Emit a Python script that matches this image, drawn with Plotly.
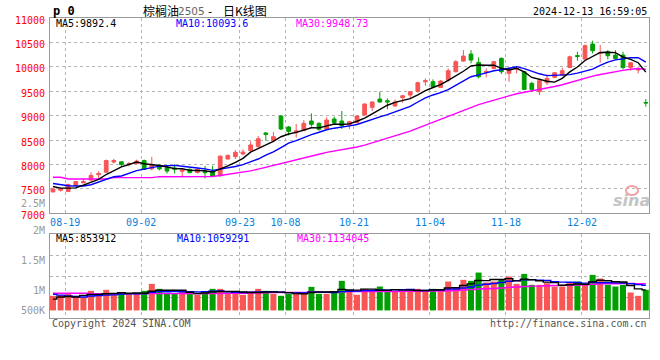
import plotly.graph_objects as go
import pandas as pd
import numpy as np

# ---------------- data ----------------
dates = (
    ["08-15", "08-16", "08-19", "08-20", "08-21", "08-22", "08-23", "08-26", "08-27", "08-28", "08-29", "08-30"]
    + ["09-02", "09-03", "09-04", "09-05", "09-06", "09-09", "09-10", "09-11", "09-12", "09-13",
       "09-18", "09-19", "09-20", "09-23", "09-24", "09-25", "09-26", "09-27", "09-30"]
    + ["10-08", "10-09", "10-10", "10-11", "10-14", "10-15", "10-16", "10-17", "10-18", "10-21",
       "10-22", "10-23", "10-24", "10-25", "10-28", "10-29", "10-30", "10-31"]
    + ["11-01", "11-04", "11-05", "11-06", "11-07", "11-08", "11-11", "11-12", "11-13", "11-14", "11-15",
       "11-18", "11-19", "11-20", "11-21", "11-22", "11-25", "11-26", "11-27", "11-28", "11-29"]
    + ["12-02", "12-03", "12-04", "12-05", "12-06", "12-09", "12-10", "12-11", "12-12"]
)

opens = [7438, 7473, 7445, 7570, 7623, 7680, 7790, 7840, 8050, 8055,
         8000, 8020, 8080, 7910, 7985, 7930, 7930, 7860, 7900, 7835,
         7853, 7853, 7770, 8112, 8160, 8215, 8283, 8365, 8645, 8487,
         8992, 8767, 8651, 8692, 8890, 8842, 8726, 8931, 8890, 8808,
         8856, 9013, 9170, 9340, 9306, 9197, 9368, 9422, 9497, 9695,
         9695, 9579, 9729, 9900, 10118, 10261, 10091, 9890, 9968, 10173,
         9866, 9954, 9900, 9661, 9490, 9675, 9784, 9831, 9988, 10230,
         10159, 10466, 10275, 10309, 10241, 10241, 9988, 9934, 9270]
highs = [7520, 7527, 7610, 7655, 7705, 7840, 7865, 8100, 8115, 8060,
         8050, 8100, 8100, 8155, 8000, 7965, 8000, 7900, 7920, 7920,
         7970, 7970, 8185, 8200, 8296, 8310, 8474, 8583, 8665, 8665,
         9013, 8787, 8829, 8910, 9047, 8863, 8965, 8979, 9095, 8897,
         9006, 9252, 9293, 9490, 9354, 9333, 9422, 9504, 9695, 9763,
         9743, 9730, 9968, 10139, 10343, 10343, 10193, 9968, 10118, 10193,
         9988, 10016, 9905, 9695, 9763, 9845, 9890, 9981, 10230, 10309,
         10460, 10534, 10446, 10343, 10343, 10309, 10098, 9988, 9340]
lows = [7430, 7445, 7440, 7565, 7620, 7655, 7720, 7835, 8020, 7950,
        7965, 8000, 7895, 7880, 7880, 7815, 7815, 7745, 7820, 7815,
        7716, 7750, 7750, 8105, 8112, 8187, 8262, 8351, 8487, 8460,
        8706, 8597, 8549, 8685, 8774, 8692, 8719, 8828, 8726, 8726,
        8842, 9000, 9095, 9265, 9129, 9183, 9265, 9340, 9470, 9613,
        9593, 9565, 9695, 9886, 10105, 10070, 9763, 9784, 9947, 9852,
        9695, 9866, 9525, 9490, 9422, 9627, 9770, 9818, 9975, 10125,
        10140, 10275, 10084, 10152, 10139, 9947, 9920, 9866, 9183]
closes = [7500, 7500, 7590, 7650, 7650, 7775, 7815, 8080, 8080, 8000,
          8020, 8070, 7900, 8000, 7910, 7865, 7900, 7885, 7832, 7900,
          7833, 7764, 8170, 8187, 8249, 8255, 8400, 8528, 8617, 8569,
          8726, 8678, 8692, 8842, 8822, 8719, 8910, 8856, 8794, 8876,
          8992, 9238, 9279, 9279, 9279, 9279, 9408, 9490, 9675, 9715,
          9593, 9708, 9920, 10105, 10220, 10139, 9797, 9905, 10105, 9900,
          9968, 9968, 9538, 9538, 9716, 9763, 9879, 9920, 10207, 10214,
          10432, 10330, 10289, 10227, 10173, 9988, 10084, 9947, 9260]
volumes_k = [610, 638, 721, 610, 555, 818, 638, 860, 693, 693,
             693, 693, 818, 1109, 901, 693, 693, 818, 693, 652,
             790, 901, 901, 693, 693, 652, 790, 901, 818, 693,
             610, 693, 735, 735, 985, 693, 693, 790, 1234, 860,
             652, 901, 790, 998, 860, 790, 790, 832, 901, 832,
             901, 860, 1206, 957, 1276, 1234, 1581, 1165, 1206, 1276,
             1414, 1109, 1525, 1068, 1068, 1137, 998, 998, 1165, 1206,
             1109, 1484, 1331, 1068, 998, 1068, 749, 610, 860]

# moving-average values before enough history exists
ma5_head = [7550, 7515, 7515, 7520]
ma10_head = [7610, 7580, 7565, 7560, 7560, 7585, 7635, 7690, 7750]
ma30_head = [7737, 7737, 7703, 7703, 7703, 7703, 7703, 7703, 7730, 7730,
             7730, 7730, 7730, 7730, 7750, 7750, 7750, 7750, 7750, 7750,
             7750, 7755, 7775, 7795, 7815, 7840, 7870, 7905, 7945]
vma5_head_k = [470, 560, 580, 560]
vma10_head_k = [670, 640, 600, 580, 560, 600, 620, 640, 650]
vma30_head_k = [720, 720, 720, 720, 720, 700, 700, 700, 700, 700,
                700, 700, 700, 700, 700, 700, 700, 700, 700, 700,
                700, 700, 705, 710, 715, 720, 725, 735, 740]

tick_dates = ["08-19", "09-02", "09-23", "10-08", "10-21", "11-04", "11-18", "12-02"]
price_ticks = [7000, 7500, 8000, 8500, 9000, 9500, 10000, 10500, 11000]

# ---------------- derived ----------------
idx = list(range(len(dates)))
volumes = [v * 1000 for v in volumes_k]


def moving_avg(values, n, head):
    m = pd.Series(values, dtype=float).rolling(n).mean().to_numpy()
    m[:len(head)] = head
    return m


ma5 = moving_avg(closes, 5, ma5_head)
ma10 = moving_avg(closes, 10, ma10_head)
ma30 = moving_avg(closes, 30, ma30_head)
vma5 = moving_avg(volumes, 5, [v * 1000 for v in vma5_head_k])
vma10 = moving_avg(volumes, 10, [v * 1000 for v in vma10_head_k])
vma30 = moving_avg(volumes, 30, [v * 1000 for v in vma30_head_k])

RED = "#f85555"
GREEN = "#00a000"
bar_colors = [RED if c >= o else GREEN for o, c in zip(opens, closes)]

MONO = "DejaVu Sans Mono"
GRID = "#b4b4b4"
FRAME = "#9a9a9a"

fig = go.Figure()
fig.add_trace(go.Candlestick(
    x=idx, open=opens, high=highs, low=lows, close=closes,
    increasing=dict(line=dict(color=RED, width=1), fillcolor=RED),
    decreasing=dict(line=dict(color=GREEN, width=1), fillcolor=GREEN),
    whiskerwidth=0, xaxis="x", yaxis="y", hoverinfo="skip", showlegend=False))
for series, col in [(ma30, "#ff00ff"), (ma10, "#0000ff"), (ma5, "#000000")]:
    fig.add_trace(go.Scatter(x=idx, y=series, mode="lines", line=dict(color=col, width=1.4),
                             xaxis="x", yaxis="y", hoverinfo="skip", showlegend=False))

fig.add_trace(go.Bar(x=idx, y=volumes, marker=dict(color=bar_colors, line=dict(width=0)),
                     width=0.79, xaxis="x2", yaxis="y2", hoverinfo="skip", showlegend=False))
for series, col in [(vma30, "#ff00ff"), (vma10, "#0000ff"), (vma5, "#000000")]:
    fig.add_trace(go.Scatter(x=idx, y=series, mode="lines", line=dict(color=col, width=1.4, shape="hvh"),
                             xaxis="x2", yaxis="y2", hoverinfo="skip", showlegend=False))

tickvals = [dates.index(d) - 0.4 for d in tick_dates]
xrange = [-0.395, 78.42]

VMIN, VMAX = -316000, 3178000
vgrid = [VMIN + (VMAX - VMIN) * f for f in (0.25, 0.5, 0.75)]

L, T, W, H = 50, 18, 599, 300


def pp(px, py):
    return (px - L) / W, 1 - (py - T) / H


annotations = []


def text(s, px, py, color="#000", size=10, anchor="left", family=MONO, **kw):
    x, y = pp(px, py)
    annotations.append(dict(text=s, x=x, y=y, xref="paper", yref="paper", showarrow=False,
                            xanchor=anchor, yanchor="middle",
                            font=dict(family=family, size=size, color=color), **kw))


text("<b>p 0</b>", 51, 11.5, size=12)
text("棕榈油", 141, 11, size=12, family="Noto Sans CJK SC")
text("2505", 176, 11.5, color="#666", size=10.5, family="DejaVu Sans")
text("-", 210, 11, size=12, anchor="center", family="Noto Sans CJK SC")
text("日K线图", 221, 11, size=12, family="Noto Sans CJK SC")
text("2024-12-13 16:59:05", 649, 11.5, size=10, anchor="right")

text("MA5:9892.4", 53.5, 23.5)
text("MA10:10093.6", 173.5, 23.5, color="#0000ff")
text("MA30:9948.73", 293.5, 23.5, color="#ff00ff")
text("MA5:853912", 53.5, 238.5)
text("MA10:1059291", 174.5, 238.5, color="#0000ff")
text("MA30:1134045", 294.5, 238.5, color="#ff00ff")

for lab, py in [("2.5M", 203), ("2M", 230.5), ("1.5M", 260), ("1M", 290.5), ("500K", 310.5)]:
    text(lab, 46.5, py, color="#999", size=10, anchor="right")

text("Copyright 2024 SINA.COM", 49.5, 323.5, color="#555")
text("http://finance.sina.com.cn", 649, 323.5, color="#555", anchor="right")
text("<b><i>sina</i></b>", 631, 200, color="#c4c4c4", size=16, anchor="center", family="DejaVu Sans")

ex0, ey0 = pp(626, 186)
ex1, ey1 = pp(638, 195)
shapes = [dict(type="circle", xref="paper", yref="paper", x0=ex0, y0=ey0, x1=ex1, y1=ey1,
               line=dict(color="#f3a0a0", width=2))]

axis_common = dict(showgrid=True, gridcolor=GRID, griddash="dot", gridwidth=1,
                   showline=True, mirror=True, linecolor=FRAME, linewidth=1, zeroline=False,
                   ticks="", automargin=False, fixedrange=True)

fig.update_layout(
    template="none",
    width=660, height=360,
    margin=dict(l=L, r=660 - L - W, t=T, b=360 - T - H, pad=0, autoexpand=False),
    paper_bgcolor="white", plot_bgcolor="white",
    hovermode=False, showlegend=False, boxgap=0.3,
    annotations=annotations, shapes=shapes,
    xaxis=dict(domain=[0, 1], anchor="y", range=xrange, tickmode="array", tickvals=tickvals,
               ticktext=tick_dates, tickfont=dict(family=MONO, size=10, color="#0a7fdc"),
               rangeslider=dict(visible=False), **axis_common),
    yaxis=dict(domain=[1 - (213.3 - T) / H, 1], anchor="x", range=[7000, 11000], tickmode="array",
               tickvals=price_ticks, ticktext=[str(v) for v in price_ticks],
               tickfont=dict(family=MONO, size=10, color="#ff0000"),
               ticklabelstandoff=2, ticklabelshift=2, **axis_common),
    xaxis2=dict(domain=[0, 1], anchor="y2", range=xrange, tickmode="array", tickvals=tickvals,
                showticklabels=False, **axis_common),
    yaxis2=dict(domain=[0, 1 - (234.3 - T) / H], anchor="x2", range=[VMIN, VMAX], tickmode="array",
                tickvals=vgrid, showticklabels=False, **axis_common),
)

fig.write_html("out.html", config={"displayModeBar": False, "staticPlot": True},
               post_script="document.body.style.margin='0';document.body.style.overflow='hidden';")
